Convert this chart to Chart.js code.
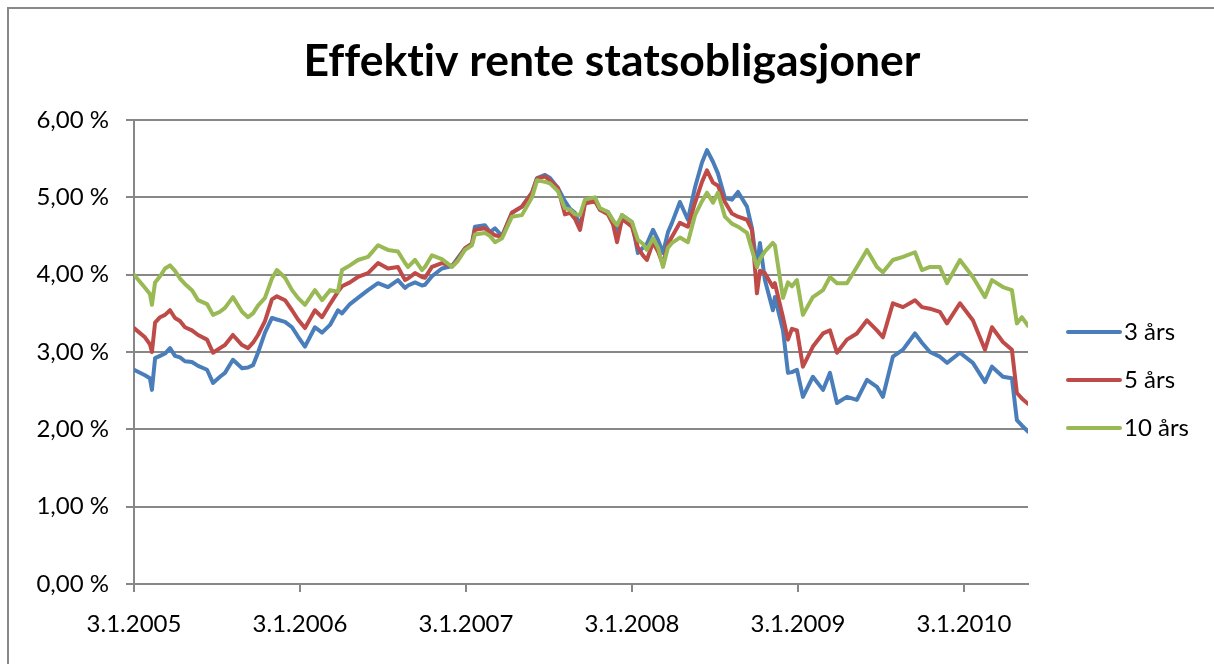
<!DOCTYPE html>
<html>
<head>
<meta charset="utf-8">
<script src="https://cdn.jsdelivr.net/npm/chart.js@4/dist/chart.umd.min.js"></script>
<style>
  html, body { margin: 0; padding: 0; background: #ffffff; overflow: hidden; }
  #wrap { position: absolute; left: 0; top: 0; width: 1214px; height: 664px; }
</style>
</head>
<body>
<div id="wrap"><canvas id="c"></canvas></div>
<script>
// ---- Data (dates as decimal years, yields in %) ----
const chartTitle = 'Effektiv rente statsobligasjoner';
const seriesNames = ['3 års', '5 års', '10 års'];
const xTickYears = [2005, 2006, 2007, 2008, 2009, 2010];
const xTickLabels = ['3.1.2005', '3.1.2006', '3.1.2007', '3.1.2008', '3.1.2009', '3.1.2010'];
const yTickLabels = ['0,00 %', '1,00 %', '2,00 %', '3,00 %', '4,00 %', '5,00 %', '6,00 %'];

const dates = [
  2005.000, 2005.066, 2005.096, 2005.108, 2005.127, 2005.157, 2005.187, 2005.217, 2005.247, 2005.277,
  2005.307, 2005.349, 2005.386, 2005.440, 2005.476, 2005.518, 2005.548, 2005.596, 2005.651, 2005.687,
  2005.717, 2005.747, 2005.789, 2005.831, 2005.861, 2005.910, 2005.952, 2005.988, 2006.030, 2006.090,
  2006.133, 2006.181, 2006.229, 2006.253, 2006.301, 2006.349, 2006.410, 2006.470, 2006.530, 2006.590,
  2006.633, 2006.651, 2006.693, 2006.735, 2006.753, 2006.795, 2006.855, 2006.916, 2006.952, 2006.994,
  2007.036, 2007.054, 2007.114, 2007.145, 2007.175, 2007.217, 2007.277, 2007.337, 2007.398, 2007.428,
  2007.476, 2007.506, 2007.554, 2007.596, 2007.627, 2007.657, 2007.687, 2007.717, 2007.777, 2007.807,
  2007.855, 2007.886, 2007.910, 2007.940, 2008.000, 2008.036, 2008.066, 2008.090, 2008.127, 2008.157,
  2008.187, 2008.217, 2008.241, 2008.289, 2008.337, 2008.380, 2008.422, 2008.452, 2008.488, 2008.518,
  2008.560, 2008.602, 2008.639, 2008.693, 2008.723, 2008.753, 2008.771, 2008.801, 2008.849, 2008.861,
  2008.910, 2008.940, 2008.964, 2008.994, 2009.030, 2009.090, 2009.151, 2009.193, 2009.235, 2009.295,
  2009.355, 2009.416, 2009.476, 2009.512, 2009.572, 2009.633, 2009.705, 2009.747, 2009.795, 2009.855,
  2009.898, 2009.976, 2010.054, 2010.127, 2010.169, 2010.235, 2010.289, 2010.319, 2010.349, 2010.386
];

const yield3 = [
  2.77, 2.70, 2.66, 2.51, 2.92, 2.95, 2.98, 3.05, 2.95, 2.93,
  2.88, 2.87, 2.82, 2.77, 2.60, 2.68, 2.73, 2.90, 2.79, 2.80,
  2.83, 2.99, 3.25, 3.44, 3.42, 3.39, 3.32, 3.20, 3.07, 3.32,
  3.25, 3.35, 3.54, 3.50, 3.62, 3.70, 3.80, 3.89, 3.84, 3.93,
  3.83, 3.86, 3.90, 3.86, 3.87, 3.98, 4.08, 4.11, 4.22, 4.34,
  4.40, 4.62, 4.64, 4.55, 4.60, 4.50, 4.80, 4.88, 5.06, 5.25,
  5.29, 5.25, 5.12, 4.95, 4.85, 4.80, 4.62, 4.95, 4.98, 4.84,
  4.81, 4.70, 4.55, 4.77, 4.68, 4.28, 4.35, 4.40, 4.58, 4.45,
  4.28, 4.55, 4.67, 4.94, 4.71, 5.13, 5.45, 5.61, 5.46, 5.31,
  4.99, 4.97, 5.07, 4.88, 4.60, 4.10, 4.41, 3.93, 3.54, 3.71,
  3.28, 2.73, 2.74, 2.77, 2.42, 2.68, 2.51, 2.73, 2.34, 2.42,
  2.38, 2.64, 2.55, 2.42, 2.94, 3.03, 3.24, 3.12, 3.00, 2.94,
  2.86, 2.99, 2.86, 2.61, 2.81, 2.68, 2.66, 2.12, 2.05, 1.97
];

const yield5 = [
  3.31, 3.19, 3.10, 3.00, 3.38, 3.45, 3.48, 3.54, 3.44, 3.40,
  3.32, 3.28, 3.22, 3.16, 2.99, 3.05, 3.09, 3.22, 3.09, 3.05,
  3.12, 3.22, 3.40, 3.68, 3.72, 3.67, 3.54, 3.42, 3.31, 3.54,
  3.45, 3.62, 3.78, 3.85, 3.90, 3.97, 4.02, 4.15, 4.08, 4.10,
  3.93, 3.95, 4.02, 3.97, 3.96, 4.10, 4.15, 4.11, 4.20, 4.34,
  4.40, 4.58, 4.60, 4.55, 4.51, 4.49, 4.80, 4.88, 5.06, 5.24,
  5.27, 5.22, 5.12, 4.78, 4.80, 4.72, 4.58, 4.92, 4.95, 4.84,
  4.78, 4.65, 4.42, 4.72, 4.62, 4.35, 4.25, 4.19, 4.42, 4.30,
  4.13, 4.40, 4.49, 4.67, 4.62, 4.93, 5.20, 5.35, 5.19, 5.15,
  4.94, 4.79, 4.75, 4.71, 4.58, 3.76, 4.05, 4.02, 3.84, 3.89,
  3.45, 3.16, 3.30, 3.28, 2.81, 3.07, 3.24, 3.28, 2.99, 3.16,
  3.24, 3.41, 3.28, 3.19, 3.63, 3.58, 3.67, 3.58, 3.56, 3.52,
  3.37, 3.63, 3.41, 3.03, 3.32, 3.13, 3.03, 2.47, 2.40, 2.33
];

const yield10 = [
  4.00, 3.83, 3.75, 3.61, 3.90, 3.98, 4.08, 4.12, 4.05, 3.95,
  3.88, 3.80, 3.67, 3.62, 3.48, 3.52, 3.57, 3.71, 3.52, 3.45,
  3.50, 3.60, 3.70, 3.95, 4.06, 3.96, 3.80, 3.70, 3.61, 3.80,
  3.67, 3.80, 3.78, 4.06, 4.12, 4.19, 4.23, 4.38, 4.32, 4.30,
  4.15, 4.10, 4.19, 4.06, 4.10, 4.25, 4.20, 4.10, 4.18, 4.32,
  4.38, 4.52, 4.54, 4.50, 4.42, 4.47, 4.75, 4.77, 5.00, 5.22,
  5.20, 5.18, 5.08, 4.86, 4.84, 4.78, 4.77, 4.97, 5.00, 4.86,
  4.81, 4.70, 4.64, 4.77, 4.68, 4.45, 4.40, 4.32, 4.47, 4.35,
  4.10, 4.35, 4.41, 4.48, 4.42, 4.77, 4.95, 5.06, 4.93, 5.06,
  4.75, 4.66, 4.62, 4.54, 4.32, 4.10, 4.20, 4.30, 4.41, 4.38,
  3.70, 3.90, 3.85, 3.93, 3.48, 3.71, 3.80, 3.97, 3.89, 3.89,
  4.10, 4.32, 4.10, 4.03, 4.19, 4.23, 4.29, 4.06, 4.10, 4.10,
  3.89, 4.19, 3.97, 3.71, 3.93, 3.84, 3.80, 3.37, 3.45, 3.34
];

const seriesColors = ['#4A7EBB', '#BE4B48', '#98B954'];

// ---- Chart ----
const FONT = 'Lato, "Open Sans", "DejaVu Sans", sans-serif';
const GRID = '#878787';

function toPoints(vals) { return dates.map((d, i) => ({ x: d, y: vals[i] })); }

const frameBorder = {
  id: 'frameBorder',
  beforeDraw(chart) {
    const ctx = chart.ctx;
    ctx.save();
    ctx.strokeStyle = '#888888';
    ctx.lineWidth = 2;
    ctx.beginPath();
    ctx.moveTo(8, chart.height);
    ctx.lineTo(8, 8);
    ctx.lineTo(chart.width, 8);
    ctx.stroke();
    ctx.restore();
  }
};

const centeredTitle = {
  id: 'centeredTitle',
  afterDraw(chart) {
    const ctx = chart.ctx;
    ctx.save();
    ctx.font = 'bold 44.5px ' + FONT;
    try { ctx.textRendering = 'optimizeSpeed'; } catch (e) {}
    ctx.fillStyle = '#000000';
    ctx.textAlign = 'center';
    ctx.textBaseline = 'middle';
    ctx.fillText(chartTitle, chart.width / 2 + 5, 62);
    ctx.restore();
  }
};

const sideLegend = {
  id: 'sideLegend',
  afterDraw(chart) {
    const ctx = chart.ctx;
    const area = chart.chartArea;
    const x0 = area.right + 40;
    const lineLen = 52;
    const gap = 48;
    const midY = 380;
    const n = chart.data.datasets.length;
    ctx.save();
    ctx.font = '24px ' + FONT;
    ctx.textBaseline = 'middle';
    ctx.textAlign = 'left';
    chart.data.datasets.forEach((ds, i) => {
      const y = midY + (i - (n - 1) / 2) * gap;
      ctx.strokeStyle = ds.borderColor;
      ctx.lineWidth = 4;
      ctx.lineCap = 'round';
      ctx.beginPath();
      ctx.moveTo(x0, y);
      ctx.lineTo(x0 + lineLen, y);
      ctx.stroke();
      ctx.fillStyle = '#000000';
      ctx.fillText(ds.label, x0 + lineLen + 4, y);
    });
    ctx.restore();
  }
};

new Chart(document.getElementById('c'), {
  type: 'line',
  data: {
    datasets: [
      { label: seriesNames[0], data: toPoints(yield3), borderColor: seriesColors[0], order: 2 },
      { label: seriesNames[1], data: toPoints(yield5), borderColor: seriesColors[1], order: 1 },
      { label: seriesNames[2], data: toPoints(yield10), borderColor: seriesColors[2], order: 0 }
    ]
  },
  options: {
    responsive: true,
    maintainAspectRatio: false,
    animation: false,
    events: [],
    elements: {
      point: { radius: 0 },
      line: { borderWidth: 4, tension: 0, borderJoinStyle: 'round', borderCapStyle: 'round', fill: false }
    },
    layout: { padding: { left: 0, right: 186, top: 120, bottom: 0 } },
    plugins: {
      legend: { display: false },
      tooltip: { enabled: false },
      title: { display: false }
    },
    scales: {
      x: {
        type: 'linear',
        min: dates[0],
        max: dates[dates.length - 1],
        afterBuildTicks(scale) { scale.ticks = xTickYears.map(v => ({ value: v })); },
        afterFit(scale) { scale.height = 80; },
        ticks: {
          autoSkip: false,
          maxRotation: 0,
          padding: 18,
          color: '#000000',
          font: { family: FONT, size: 24 },
          callback(value) { const i = xTickYears.indexOf(value); return i >= 0 ? xTickLabels[i] : ''; }
        },
        grid: { drawOnChartArea: false, drawTicks: true, tickLength: 8, color: GRID, lineWidth: 2 },
        border: { display: true, color: GRID, width: 2 }
      },
      y: {
        min: 0,
        max: 6,
        afterFit(scale) { scale.width = 134; },
        ticks: {
          stepSize: 1,
          padding: 17,
          color: '#000000',
          font: { family: FONT, size: 24 },
          callback(value) { return yTickLabels[Math.round(value)]; }
        },
        grid: { drawOnChartArea: true, drawTicks: true, tickLength: 8, color: GRID, lineWidth: 2 },
        border: { display: true, color: GRID, width: 2 }
      }
    }
  },
  plugins: [frameBorder, centeredTitle, sideLegend]
});
</script>
</body>
</html>
